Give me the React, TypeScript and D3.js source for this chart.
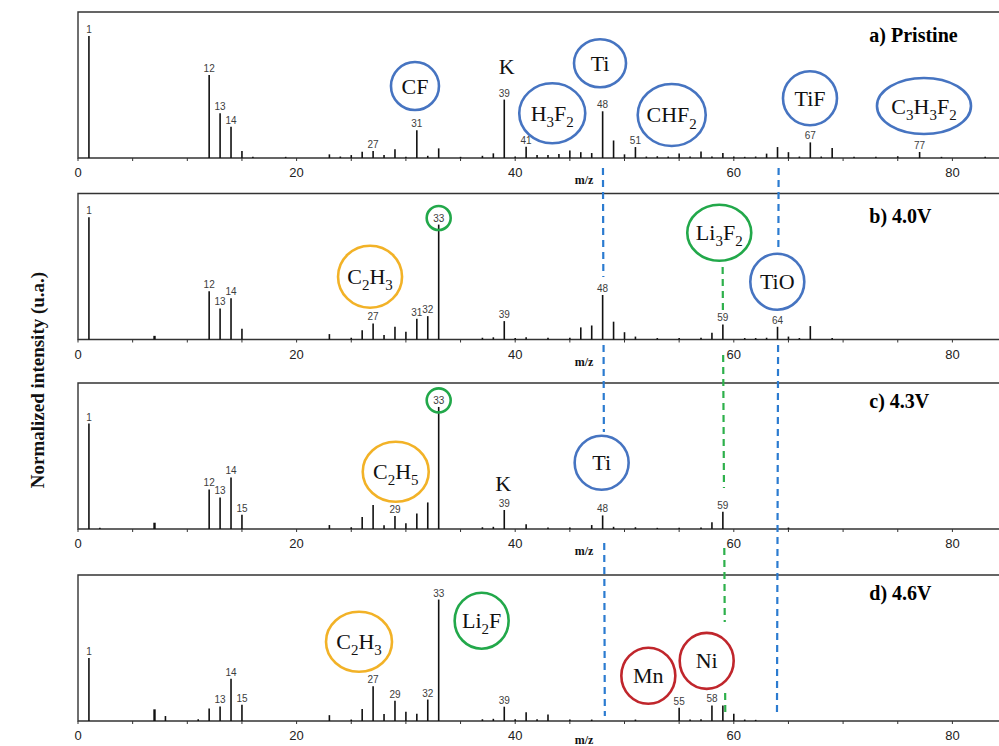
import React from 'react';
import * as d3 from 'd3';

// ---------- DATA (m/z, normalized intensity) ----------
const pristinePeaks: [number, number][] = [
  [1, 0.836], [12, 0.568], [13, 0.306], [14, 0.214], [15, 0.048], [16, 0.008], [19, 0.008],
  [23, 0.025], [24, 0.01], [25, 0.02], [26, 0.043], [27, 0.048], [28, 0.02], [29, 0.06], [30, 0.008],
  [31, 0.19], [32, 0.015], [33, 0.066], [35, 0.008], [37, 0.015], [38, 0.032], [39, 0.4], [40, 0.01],
  [41, 0.077], [42, 0.02], [43, 0.02], [44, 0.027], [45, 0.052], [46, 0.04], [47, 0.034], [48, 0.32],
  [49, 0.12], [50, 0.025], [51, 0.075], [52, 0.01], [53, 0.012], [54, 0.01], [55, 0.03], [56, 0.01],
  [57, 0.045], [58, 0.01], [59, 0.035], [60, 0.01], [61, 0.008], [62, 0.01], [63, 0.03], [64, 0.075],
  [65, 0.04], [66, 0.01], [67, 0.107], [68, 0.01], [69, 0.068], [71, 0.008], [73, 0.008], [75, 0.012],
  [77, 0.041], [79, 0.008], [83, 0.008],
];
const v40Peaks: [number, number][] = [
  [1, 0.837], [7, 0.025], [12, 0.33], [13, 0.213], [14, 0.282], [15, 0.073], [23, 0.037], [25, 0.012],
  [26, 0.064], [27, 0.11], [28, 0.03], [29, 0.087], [30, 0.053], [31, 0.142], [32, 0.16], [33, 0.787],
  [37, 0.012], [38, 0.015], [39, 0.126], [40, 0.01], [41, 0.015], [43, 0.012], [45, 0.012], [46, 0.083],
  [47, 0.096], [48, 0.305], [49, 0.122], [50, 0.05], [51, 0.02], [53, 0.01], [55, 0.01], [57, 0.012],
  [58, 0.046], [59, 0.103], [61, 0.01], [62, 0.01], [63, 0.012], [64, 0.087], [65, 0.02], [66, 0.01],
  [67, 0.092], [69, 0.01],
];
const v43Peaks: [number, number][] = [
  [1, 0.722], [2, 0.008], [7, 0.043], [12, 0.271], [13, 0.216], [14, 0.353], [15, 0.098], [23, 0.027],
  [25, 0.012], [26, 0.082], [27, 0.164], [28, 0.025], [29, 0.089], [30, 0.039], [31, 0.107], [32, 0.182],
  [33, 0.836], [37, 0.012], [38, 0.015], [39, 0.13], [41, 0.032], [43, 0.01], [45, 0.01], [47, 0.027],
  [48, 0.093], [49, 0.015], [51, 0.012], [53, 0.008], [55, 0.008], [57, 0.01], [58, 0.046], [59, 0.118],
  [65, 0.01],
];
const v46Peaks: [number, number][] = [
  [1, 0.431], [7, 0.08], [8, 0.034], [11, 0.012], [12, 0.086], [13, 0.1], [14, 0.29], [15, 0.111],
  [23, 0.04], [25, 0.01], [26, 0.082], [27, 0.238], [28, 0.048], [29, 0.138], [30, 0.063], [31, 0.05],
  [32, 0.147], [33, 0.832], [37, 0.012], [38, 0.015], [39, 0.098], [40, 0.012], [41, 0.06], [42, 0.012],
  [43, 0.045], [45, 0.01], [47, 0.01], [51, 0.01], [55, 0.09], [56, 0.01], [57, 0.012], [58, 0.107],
  [59, 0.107], [60, 0.05], [61, 0.01], [62, 0.008],
];

const pristineLabels = [1, 12, 13, 14, 27, 31, 39, 41, 48, 51, 67, 77];
const v40Labels = [1, 12, 13, 14, 27, 31, 32, 33, 39, 48, 59, 64];
const v43Labels = [1, 12, 13, 14, 15, 29, 33, 39, 48, 59];
const v46Labels = [1, 13, 14, 15, 27, 29, 32, 33, 39, 55, 58];

const ringedLabels = [[], [33], [33], []];

const panelTitles = ['a) Pristine', 'b) 4.0V', 'c) 4.3V', 'd) 4.6V'];
const minorTicks = [0, 5, 10, 15, 20, 25, 30, 35, 40, 45, 50, 55, 60, 65, 70, 75, 80];
const tickLabels = [0, 20, 40, 60, 80];
const yTitle = 'Normalized intensity (u.a.)';
const xTitle = 'm/z';

type Ann = { panel: number; text: string; mz: number; level: number; color: string; rx?: number; ry?: number };
const annotations: Ann[] = [
  { panel: 0, text: 'CF', mz: 30.83, level: 0.493, color: 'blue', rx: 24, ry: 24 },
  { panel: 0, text: 'K', mz: 39.22, level: 0.625, color: 'none' },
  { panel: 0, text: 'H_3F_2', mz: 43.39, level: 0.306, color: 'blue', rx: 33, ry: 30 },
  { panel: 0, text: 'Ti', mz: 47.76, level: 0.649, color: 'blue', rx: 26, ry: 24 },
  { panel: 0, text: 'CHF_2', mz: 54.32, level: 0.295, color: 'blue', rx: 34, ry: 31 },
  { panel: 0, text: 'TiF', mz: 66.97, level: 0.409, color: 'blue', rx: 27, ry: 27 },
  { panel: 0, text: 'C_3H_3F_2', mz: 77.4, level: 0.356, color: 'blue', rx: 47, ry: 28 },
  { panel: 1, text: 'C_2H_3', mz: 26.72, level: 0.43, color: 'orange', rx: 32, ry: 31 },
  { panel: 1, text: 'Li_3F_2', mz: 58.67, level: 0.731, color: 'green', rx: 32, ry: 28 },
  { panel: 1, text: 'TiO', mz: 63.98, level: 0.396, color: 'blue', rx: 27, ry: 28 },
  { panel: 2, text: 'C_2H_5', mz: 29.07, level: 0.392, color: 'orange', rx: 33, ry: 30 },
  { panel: 2, text: 'K', mz: 38.91, level: 0.313, color: 'none' },
  { panel: 2, text: 'Ti', mz: 47.91, level: 0.454, color: 'blue', rx: 27, ry: 27 },
  { panel: 3, text: 'C_2H_3', mz: 25.71, level: 0.543, color: 'orange', rx: 33, ry: 30 },
  { panel: 3, text: 'Li_2F', mz: 36.93, level: 0.687, color: 'green', rx: 27, ry: 28 },
  { panel: 3, text: 'Mn', mz: 52.18, level: 0.31, color: 'red', rx: 27, ry: 28 },
  { panel: 3, text: 'Ni', mz: 57.52, level: 0.412, color: 'red', rx: 27, ry: 28 },
];

// dashed guide lines: segments [panelStart, levelStart, panelEnd, levelEnd]
const guideLines = [
  { color: 'blue', mzTop: 48.03, mzBottom: 48.2, segments: [[0, -0.068, 1, 0.428], [1, -0.038, 2, 0.664], [2, -0.096, 3, 0.034]] },
  { color: 'blue', mzTop: 64.1, mzBottom: 63.95, segments: [[0, -0.068, 1, 0.613], [1, -0.038, 3, 0.034]] },
  { color: 'green', mzTop: 58.98, mzBottom: 59.22, segments: [[1, 0.497, 1, 0.202], [1, -0.106, 2, 0.281], [2, -0.13, 3, 0.678], [3, 0.192, 3, 0.062]] },
];

// ---------- STYLE ----------
const W = 999, H = 746;
const panelTops = [12, 193.5, 383, 575];
const panelH = 146;
const ringColors: Record<string, string> = { blue: '#4674C1', orange: '#F2B227', green: '#22A84A', red: '#C0262C', none: 'none' };
const guideColors: Record<string, string> = { blue: '#2B7BD0', green: '#2DB04B' };
const serif = '"Liberation Serif", "Times New Roman", serif';
const sans = '"Liberation Sans", Arial, sans-serif';

const x = d3.scaleLinear().domain([0, 85]).range([78, 78 + 85 * 10.93]);
const yScales = panelTops.map((t) => d3.scaleLinear().domain([0, 1]).range([t + panelH, t]));

function Formula({ text, cx, cy, size }: { text: string; cx: number; cy: number; size: number }) {
  const parts: { t: string; sub: boolean }[] = [];
  for (let i = 0; i < text.length; i++) {
    const ch = text[i];
    const sub = ch === '_';
    const c = sub ? text[++i] : ch;
    const last = parts[parts.length - 1];
    if (last && last.sub === sub) last.t += c;
    else parts.push({ t: c, sub });
  }
  const shift = size * 0.28;
  let cur = 0;
  return (
    <text x={cx} y={cy + size * 0.34} textAnchor="middle" fontFamily={serif} fontSize={size} fill="#111">
      {parts.map((p, i) => {
        const target = p.sub ? shift : 0;
        const dy = target - cur;
        cur = target;
        return (
          <tspan key={i} dy={dy} fontSize={p.sub ? size * 0.68 : size}>
            {p.t}
          </tspan>
        );
      })}
    </text>
  );
}

const allPeaks = [pristinePeaks, v40Peaks, v43Peaks, v46Peaks];
const allLabels = [pristineLabels, v40Labels, v43Labels, v46Labels];

export default function App() {
  const right = W + 2;
  return (
    <svg width={W} height={H} style={{ position: 'absolute', left: 0, top: 0, background: '#fff' }}>
      <rect width={W} height={H} fill="#fff" />
      {allPeaks.map((peaks, p) => {
        const y = yScales[p];
        const base = y(0);
        const top = y.range()[1];
        const labels = allLabels[p];
        return (
          <g key={p}>
            {/* frame */}
            <path d={`M${right},${top}H${x(0)}V${base}H${right}`} fill="none" stroke="#333" strokeWidth={1.4} />
            {/* ticks */}
            {minorTicks.map((t) => (
              <line key={t} x1={x(t)} x2={x(t)} y1={base} y2={base + 3} stroke="#333" strokeWidth={1} />
            ))}
            {tickLabels.map((t) => (
              <text key={t} x={x(t)} y={base + 19} textAnchor="middle" fontFamily={sans} fontSize={13} fill="#222">
                {t}
              </text>
            ))}
            <text x={x(46.3)} y={Math.min(base + 26, H - 2)} textAnchor="middle" fontFamily={serif} fontWeight="bold" fontSize={12} fill="#111">
              {xTitle}
            </text>
            {/* peaks */}
            {peaks.map(([mz, v]) => (
              <line key={mz} x1={x(mz)} x2={x(mz)} y1={base} y2={y(v)} stroke="#111" strokeWidth={mz === 7 ? 2.4 : 1.6} />
            ))}
            {/* peak labels */}
            {labels.map((mz) => {
              const pk = peaks.find((d) => d[0] === mz)!;
              const ly = y(pk[1]) - 3;
              return (
                <g key={mz}>
                  <text x={x(mz)} y={ly} textAnchor="middle" fontFamily={sans} fontSize={10} fill="#3d3d3d">
                    {mz}
                  </text>
                  {ringedLabels[p].includes(mz) && (
                    <circle cx={x(mz)} cy={ly - 3.6} r={12} fill="none" stroke={ringColors.green} strokeWidth={2.6} />
                  )}
                </g>
              );
            })}
            {/* title */}
            <text x={x(72.4)} y={y(p === 0 || p === 1 ? 0.797 : 0.826)} fontFamily={serif} fontWeight="bold" fontSize={20} fill="#000">
              {panelTitles[p]}
            </text>
          </g>
        );
      })}

      {/* dashed guide lines */}
      {guideLines.map((g, gi) => {
        const segs = g.segments.map(([p0, l0, p1, l1]) => [yScales[p0](l0), yScales[p1](l1)]);
        const yTop = segs[0][0];
        const yBot = segs[segs.length - 1][1];
        const mzAt = d3.scaleLinear().domain([yTop, yBot]).range([g.mzTop, g.mzBottom]);
        return (
          <g key={gi}>
            {segs.map(([a, b], si) => (
              <line
                key={si}
                x1={x(mzAt(a))}
                x2={x(mzAt(b))}
                y1={a}
                y2={b}
                stroke={guideColors[g.color]}
                strokeWidth={2.2}
                strokeDasharray="7 5"
              />
            ))}
          </g>
        );
      })}

      {/* annotations */}
      {annotations.map((a, i) => {
        const cx = x(a.mz);
        const cy = yScales[a.panel](a.level);
        return (
          <g key={i}>
            {a.color !== 'none' && (
              <ellipse cx={cx} cy={cy} rx={a.rx} ry={a.ry} fill="none" stroke={ringColors[a.color]} strokeWidth={2.6} />
            )}
            <Formula text={a.text} cx={cx} cy={cy} size={22} />
          </g>
        );
      })}

      <text
        transform={`translate(37,380) rotate(-90)`}
        textAnchor="middle"
        dominantBaseline="central"
        fontFamily={serif}
        fontWeight="bold"
        fontSize={19}
        fill="#111"
      >
        {yTitle}
      </text>
    </svg>
  );
}
